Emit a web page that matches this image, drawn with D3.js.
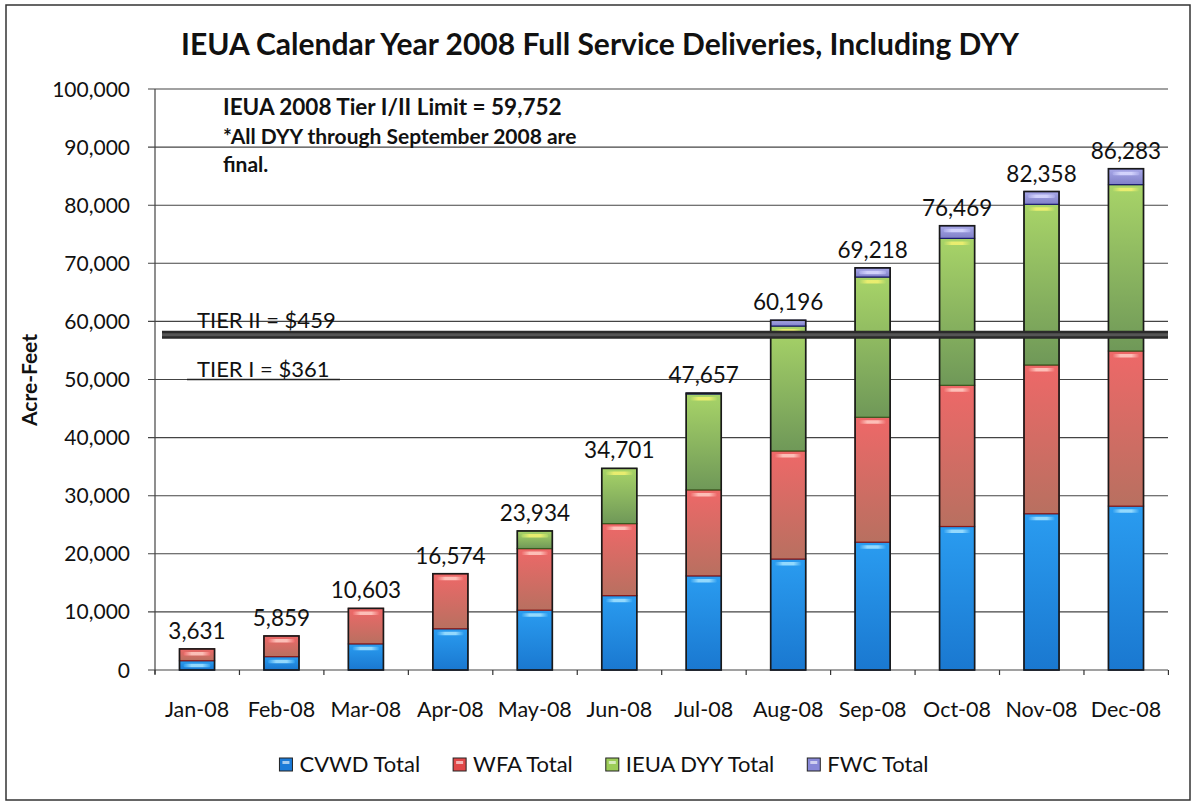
<!DOCTYPE html>
<html><head><meta charset="utf-8">
<script src="https://cdn.jsdelivr.net/npm/d3@7"></script>
<style>
body{margin:0;background:#fff;}
svg text{font-family:Lato,"Open Sans",sans-serif;fill:#111;}
</style>
</head><body>
<svg id="chart" width="1196" height="803"></svg>
<script>
// ---- data ----
const months = ["Jan-08","Feb-08","Mar-08","Apr-08","May-08","Jun-08","Jul-08","Aug-08","Sep-08","Oct-08","Nov-08","Dec-08"];
const cvwd  = [1600, 2300, 4500, 7100, 10300, 12800, 16200, 19100, 22000, 24700, 26900, 28200];
const wfa   = [2031, 3559, 6103, 9474, 10600, 12400, 14800, 18600, 21500, 24300, 25600, 26700];
const dyy   = [0, 0, 0, 0, 3034, 9501, 16507, 21496, 24130, 25290, 27650, 28640];
const fwc   = [0, 0, 0, 0, 0, 0, 150, 1000, 1588, 2179, 2208, 2743];
const totals = [3631, 5859, 10603, 16574, 23934, 34701, 47657, 60196, 69218, 76469, 82358, 86283];
const seriesNames = ["CVWD Total","WFA Total","IEUA DYY Total","FWC Total"];
const yTicks = [0,10000,20000,30000,40000,50000,60000,70000,80000,90000,100000];
const tierLine = 57700;
const tierLabels = ["TIER II = $459","TIER I = $361"];
const tierLabelValues = [58800, 50400];
const titleText = "IEUA Calendar Year 2008 Full Service Deliveries, Including DYY";
const noteLines = ["IEUA 2008 Tier I/II Limit = 59,752","*All DYY through September 2008 are","final."];
const yTitle = "Acre-Feet";

// ---- build table ----
const table = months.map((m,i)=>({month:m,"CVWD Total":cvwd[i],"WFA Total":wfa[i],"IEUA DYY Total":dyy[i],"FWC Total":fwc[i],total:totals[i]}));

const svg = d3.select("#chart");
const W = 1196, H = 803;
const m = {left:155, right:1168, top:89, bottom:670};

const x = d3.scaleBand().domain(months).range([m.left, m.right]).paddingInner(0.585).paddingOuter(0.29);
const y = d3.scaleLinear().domain([0,100000]).range([m.bottom, m.top]);

const styles = {
  "CVWD Total":     {top:"#2a9cf0", bot:"#1a78d0", hi:"#9fe0ff", edge:"#0b3a80"},
  "WFA Total":      {top:"#ee6868", bot:"#b87060", hi:"#ffc8c0", edge:"#8a1a1a"},
  "IEUA DYY Total": {top:"#a8d468", bot:"#6f9858", hi:"#f0f070", edge:"#3a5a20"},
  "FWC Total":      {top:"#a8a8e8", bot:"#8080c8", hi:"#d8d8ff", edge:"#1a1a70"}
};
const legendColors = {"CVWD Total":"#1a7ad8","WFA Total":"#e04848","IEUA DYY Total":"#9ccc58","FWC Total":"#8888d8"};

const defs = svg.append("defs");
seriesNames.forEach((s,i)=>{
  const g = defs.append("linearGradient").attr("id","g"+i).attr("x1",0).attr("y1",0).attr("x2",0).attr("y2",1);
  g.append("stop").attr("offset","0%").attr("stop-color",styles[s].top);
  g.append("stop").attr("offset","100%").attr("stop-color",styles[s].bot);
  const h = defs.append("linearGradient").attr("id","h"+i).attr("x1",0).attr("y1",0).attr("x2",1).attr("y2",0);
  h.append("stop").attr("offset","0%").attr("stop-color",styles[s].top);
  h.append("stop").attr("offset","30%").attr("stop-color",styles[s].hi);
  h.append("stop").attr("offset","70%").attr("stop-color",styles[s].hi);
  h.append("stop").attr("offset","100%").attr("stop-color",styles[s].top);
});

svg.append("rect").attr("x",0).attr("y",0).attr("width",W).attr("height",H).attr("fill","#fff");
svg.append("rect").attr("x",6).attr("y",5).attr("width",1184).attr("height",795)
  .attr("fill","none").attr("stroke","#333").attr("stroke-width",1.5);

// title
svg.append("text").attr("x",600).attr("y",55).attr("text-anchor","middle")
  .style("font-size","30px").style("font-weight","bold").text(titleText);

// gridlines
svg.append("g").selectAll("line").data(yTicks).join("line")
  .attr("x1",m.left-7).attr("x2",m.right).attr("y1",d=>y(d)).attr("y2",d=>y(d))
  .attr("stroke","#444").attr("stroke-width",1.1);

// y axis labels
svg.append("g").selectAll("text").data(yTicks).join("text")
  .attr("x",130).attr("y",d=>y(d)).attr("dy","0.36em").attr("text-anchor","end")
  .style("font-size","21px").text(d=>d3.format(",")(d));

svg.append("line").attr("x1",m.left).attr("x2",m.left).attr("y1",m.top).attr("y2",m.bottom+4)
  .attr("stroke","#444").attr("stroke-width",1.2);

svg.append("text").attr("transform","translate(37,380) rotate(-90)").attr("text-anchor","middle")
  .style("font-size","21px").style("font-weight","bold").text(yTitle);

// x axis ticks + labels
const step = x.step();
const bounds = d3.range(months.length+1).map(i=>m.left + i*step);
svg.append("g").selectAll("line").data(bounds).join("line")
  .attr("x1",d=>d).attr("x2",d=>d).attr("y1",m.bottom).attr("y2",m.bottom+5)
  .attr("stroke","#333").attr("stroke-width",1.2);
svg.append("g").selectAll("text").data(months).join("text")
  .attr("x",d=>x(d)+x.bandwidth()/2).attr("y",717).attr("text-anchor","middle")
  .style("font-size","21.5px").text(d=>d);

// bars
const stack = d3.stack().keys(seriesNames)(table);
const layers = svg.append("g").selectAll("g").data(stack).join("g");
layers.each(function(layer, li){
  const g = d3.select(this);
  const segs = layer.filter(d=>d[1]-d[0] > 0);
  g.selectAll("rect.seg").data(segs).join("rect").attr("class","seg")
    .attr("x",d=>x(d.data.month)).attr("width",x.bandwidth())
    .attr("y",d=>y(d[1])).attr("height",d=>y(d[0])-y(d[1]))
    .attr("fill","url(#g"+li+")").attr("stroke",styles[seriesNames[li]].edge).attr("stroke-width",1.2);
  g.selectAll("rect.hi").data(segs.filter(d=>y(d[0])-y(d[1])>7)).join("rect").attr("class","hi")
    .attr("x",d=>x(d.data.month)+4).attr("width",x.bandwidth()-8)
    .attr("y",d=>y(d[1])+3).attr("height",3.5).attr("rx",1.5)
    .attr("fill","url(#h"+li+")").attr("opacity",0.9);
});
svg.append("g").selectAll("rect").data(table).join("rect")
  .attr("x",d=>x(d.month)).attr("width",x.bandwidth())
  .attr("y",d=>y(d.total)).attr("height",d=>y(0)-y(d.total))
  .attr("fill","none").attr("stroke","#1a1a1a").attr("stroke-width",1.6);

// total labels
svg.append("g").selectAll("text").data(table).join("text")
  .attr("x",d=>x(d.month)+x.bandwidth()/2).attr("y",d=>y(d.total)-10).attr("text-anchor","middle")
  .style("font-size","22.5px").text(d=>d3.format(",")(d.total));

// tier line
svg.append("line").attr("x1",m.left+7).attr("x2",m.right).attr("y1",y(tierLine)).attr("y2",y(tierLine))
  .attr("stroke","#2a2a2a").attr("stroke-width",8);
svg.append("line").attr("x1",m.left+7).attr("x2",m.right).attr("y1",y(tierLine)).attr("y2",y(tierLine))
  .attr("stroke","#555").attr("stroke-width",3);

// tier labels
svg.append("text").attr("x",197).attr("y",y(tierLabelValues[0])).style("font-size","22px").text(tierLabels[0]);
svg.append("text").attr("x",197).attr("y",y(tierLabelValues[1])).style("font-size","22px").text(tierLabels[1]);
svg.append("line").attr("x1",187).attr("x2",340).attr("y1",y(50000)).attr("y2",y(50000)).attr("stroke","#222").attr("stroke-width",1.3);

// note
svg.append("text").attr("x",223).attr("y",115).style("font-size","22.5px").style("font-weight","bold").text(noteLines[0]);
svg.append("text").attr("x",223).attr("y",144).style("font-size","21px").style("font-weight","bold").text(noteLines[1]);
svg.append("text").attr("x",223).attr("y",172).style("font-size","21px").style("font-weight","bold").text(noteLines[2]);

// legend
const lg = svg.append("g");
let lx = 0;
const items = [];
seriesNames.forEach(s=>{
  const it = lg.append("g");
  it.append("rect").attr("x",0).attr("y",-14).attr("width",13).attr("height",13)
    .attr("fill",legendColors[s]).attr("stroke","#222").attr("stroke-width",1);
  it.append("rect").attr("x",3).attr("y",-11).attr("width",7).attr("height",3).attr("fill","#fff").attr("opacity",0.6);
  it.append("text").attr("x",20).attr("y",0).style("font-size","22px").text(s);
  items.push(it);
});
items.forEach(it=>{
  const w = it.node().getBBox().width;
  it.attr("transform",`translate(${lx},772)`);
  lx += w + 33;
});
const totalW = lx - 33;
lg.attr("transform",`translate(${604 - totalW/2},0)`);
</script>
</body></html>
